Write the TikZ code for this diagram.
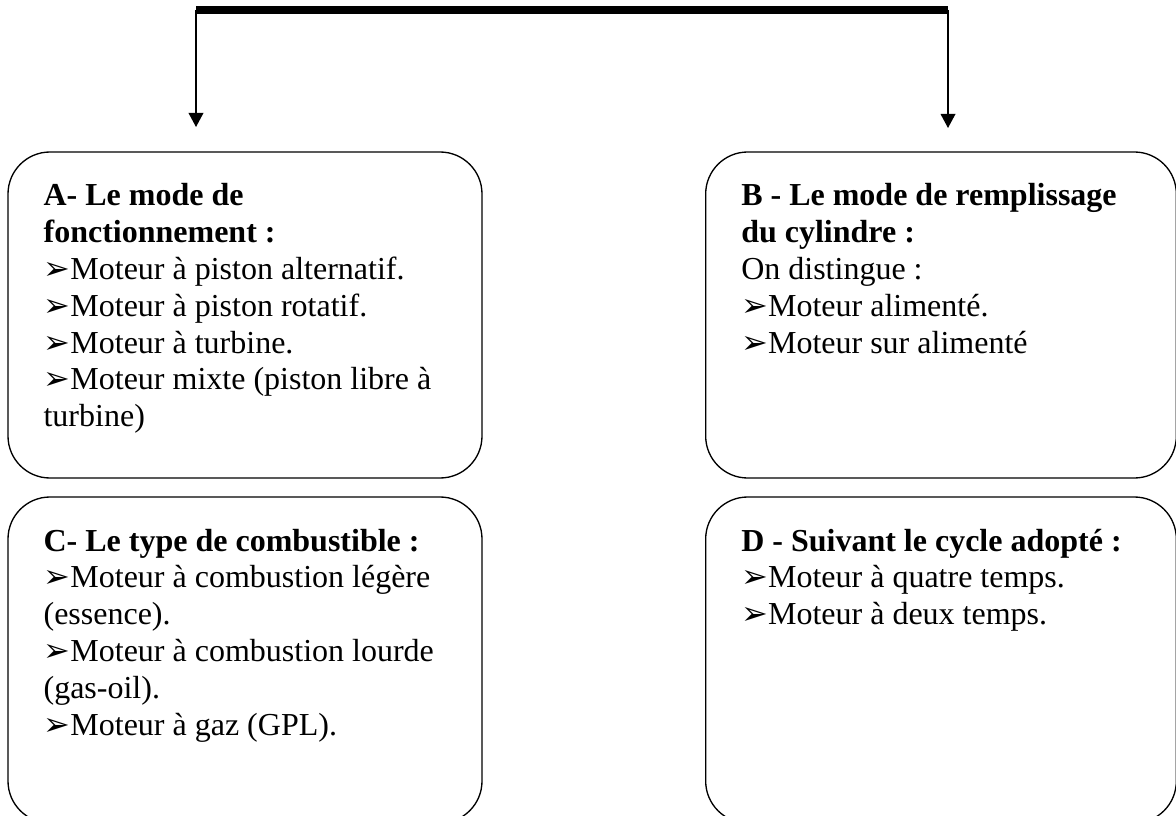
\documentclass[tikz,border=0pt]{standalone}
\usepackage{fontspec}
\setmainfont{Liberation Serif}
\newfontfamily\dingfont[Scale=1.0]{DejaVu Sans}
\usetikzlibrary{positioning,arrows.meta}
\newcommand{\puce}{{\dingfont ➢}}
\tikzstyle{link} = [draw, line width=1pt]
\tikzstyle{bus} = [draw, line width=6pt]
\tikzstyle{panel} = [draw, line width=1pt, rounded corners=31.5pt, minimum width=355.5pt, minimum height=244.5pt]
\tikzstyle{blurb} = [inner sep=0pt, text width=340pt, align=flush left, font=\fontsize{24}{27.6}\selectfont]

\begin{document}
\begin{tikzpicture} [x=0.75pt, y=-0.75pt, every edge/.style={link, -{Triangle[width=11pt,length=10.5pt]}}]

\useasboundingbox (0,0) rectangle (1176,816);
\clip (0,0) rectangle (1176,816);

% Top bus

\coordinate (busL) at (196,10);
\coordinate (busR) at (948,10);
\coordinate (tipA) at (196,127);
\coordinate (tipB) at (948,128);

\path[bus] (busL) -- (busR);
\path (busL) edge (tipA);
\path (busR) edge (tipB);

% Boxes

\node[panel] (modeA) at (245,315) {};
\node[panel, minimum width=353pt] (modeB) at (941,315) {};
\node[panel] (modeC) at (245,660) {};
\node[panel, minimum width=353pt] (modeD) at (941,660) {};

% Texts

\node[blurb, below right=41pt and 27pt of modeA.north west, anchor=base west] (textA) {\textbf{A- Le mode de}\\
\textbf{fonctionnement :}\\
\puce Moteur à piston alternatif.\\
\puce Moteur à piston rotatif.\\
\puce Moteur à turbine.\\
\puce Moteur mixte (piston libre à\\
turbine)};

\node[blurb, below right=41pt and 27pt of modeB.north west, anchor=base west] (textB) {\textbf{B - Le mode de remplissage}\\
\textbf{du cylindre :}\\
On distingue :\\
\puce Moteur alimenté.\\
\puce Moteur sur alimenté};

\node[blurb, below right=41pt and 27pt of modeC.north west, anchor=base west] (textC) {\textbf{C- Le type de combustible :}\\
\puce Moteur à combustion légère\\
(essence).\\
\puce Moteur à combustion lourde\\
(gas-oil).\\
\puce Moteur à gaz (GPL).};

\node[blurb, below right=41pt and 27pt of modeD.north west, anchor=base west] (textD) {\textbf{D - Suivant le cycle adopté :}\\
\puce Moteur à quatre temps.\\
\puce Moteur à deux temps.};

\end{tikzpicture}
\end{document}
